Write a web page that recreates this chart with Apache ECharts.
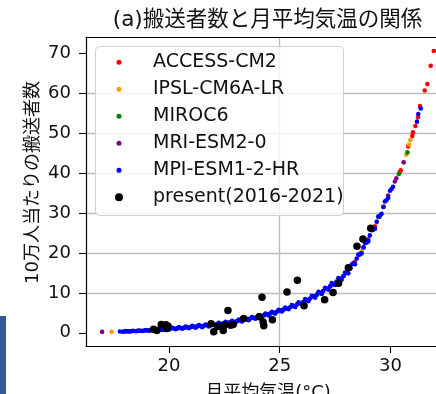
<!DOCTYPE html>
<html><head><meta charset="utf-8">
<script src="https://cdn.jsdelivr.net/npm/echarts@6/dist/echarts.min.js"></script>
<style>html,body{margin:0;padding:0;background:#fff}#c{width:436px;height:394px}</style>
</head><body><div id="c"></div>
<script>
const titleText = '(a)搬送者数と月平均気温の関係';
const xName = '月平均気温(°C)';
const yName = '10万人当たりの搬送者数';
const xTicks = [20, 25, 30];
const yTicks = [0, 10, 20, 30, 40, 50, 60, 70];
const modelNames = ['ACCESS-CM2', 'IPSL-CM6A-LR', 'MIROC6', 'MRI-ESM2-0', 'MPI-ESM1-2-HR'];
const presentName = 'present(2016-2021)';

const accessCM2 = [[18.2,0.38],[19.1,0.62],[20.4,1.15],[21.0,1.5],[21.8,1.9],[22.7,2.6],[23.5,3.4],[24.3,4.4],[25.1,5.7],[25.9,7.3],[26.6,9.2],[27.3,11.7],[27.9,14.3],[28.4,17.8],[28.8,21.4],[29.3,26.7],[29.7,31.6],[30.42,40.2],[30.47,40.7],[30.8,46.7],[30.99,49.3],[31.02,50.2],[31.13,51.8],[31.25,54.0],[31.34,56.8],[31.55,60.7],[31.67,62.3],[31.82,66.9],[31.96,70.6]];
const ipslCM6A = [[17.41,0.25],[18.6,0.48],[19.7,0.85],[20.9,1.4],[22.3,2.3],[23.6,3.5],[24.8,5.1],[25.8,7.1],[26.9,10.2],[27.8,13.8],[28.7,20.4],[29.4,27.9],[30.72,44.6],[30.84,47.1],[30.9,48.3]];
const miroc6 = [[18.0,0.35],[19.4,0.73],[20.7,1.3],[21.9,2.0],[23.1,2.95],[24.5,4.7],[25.6,6.7],[26.7,9.6],[27.6,12.6],[28.6,19.5],[29.5,29.0],[30.38,39.8],[30.77,45.2]];
const mriESM2 = [[16.98,0.25],[18.3,0.4],[19.8,0.9],[21.2,1.55],[22.5,2.4],[23.8,3.75],[25.2,5.9],[26.3,8.3],[27.4,12.1],[28.2,16.1],[29.0,23.4],[29.9,34.4],[30.2,37.9],[30.27,38.7],[30.6,42.7]];
const mpiESM1 = [[17.78,0.32],[17.9,0.28],[17.97,0.35],[18.05,0.42],[18.12,0.37],[18.2,0.33],[18.27,0.4],[18.35,0.49],[18.42,0.44],[18.5,0.39],[18.57,0.48],[18.65,0.58],[18.72,0.52],[18.8,0.45],[18.87,0.56],[18.95,0.68],[19.02,0.6],[19.1,0.52],[19.17,0.65],[19.25,0.8],[19.32,0.71],[19.4,0.6],[19.47,0.76],[19.55,0.95],[19.62,0.82],[19.7,0.7],[19.77,0.89],[19.85,1.1],[19.92,0.96],[20.0,0.82],[20.07,1.03],[20.15,1.28],[20.22,1.09],[20.3,0.92],[20.37,1.15],[20.45,1.42],[20.52,1.21],[20.6,1.02],[20.67,1.28],[20.75,1.58],[20.82,1.36],[20.9,1.15],[20.97,1.43],[21.05,1.75],[21.12,1.51],[21.2,1.28],[21.27,1.6],[21.35,1.92],[21.42,1.68],[21.5,1.42],[21.57,1.77],[21.65,2.1],[21.72,1.86],[21.8,1.6],[21.87,1.96],[21.95,2.3],[22.02,2.07],[22.1,1.8],[22.17,2.17],[22.25,2.5],[22.32,2.28],[22.4,2.05],[22.47,2.4],[22.55,2.75],[22.62,2.52],[22.7,2.3],[22.77,2.64],[22.85,3.0],[22.92,2.78],[23.0,2.55],[23.07,2.92],[23.15,3.3],[23.22,3.07],[23.3,2.85],[23.37,3.23],[23.45,3.62],[23.52,3.4],[23.6,3.18],[23.67,3.58],[23.75,3.98],[23.82,3.76],[23.9,3.55],[23.97,3.96],[24.05,4.4],[24.12,4.16],[24.2,3.95],[24.27,4.36],[24.35,4.8],[24.42,4.58],[24.5,4.35],[24.57,4.8],[24.65,5.25],[24.72,5.04],[24.8,4.82],[24.87,5.28],[24.95,5.75],[25.02,5.54],[25.1,5.35],[25.17,5.82],[25.25,6.3],[25.32,6.11],[25.4,5.9],[25.47,6.41],[25.55,6.95],[25.62,6.73],[25.7,6.5],[25.77,7.07],[25.85,7.65],[25.92,7.42],[26.0,7.2],[26.07,7.8],[26.15,8.45],[26.22,8.2],[26.3,7.95],[26.37,8.61],[26.45,9.3],[26.52,9.05],[26.6,8.8],[26.67,9.52],[26.75,10.25],[26.82,10.0],[26.9,9.75],[26.97,10.51],[27.05,11.3],[27.12,11.06],[27.2,10.8],[27.27,11.63],[27.35,12.45],[27.42,12.22],[27.5,12.0],[27.57,12.85],[27.65,13.7],[27.72,13.52],[27.8,13.3],[27.87,14.2],[27.95,15.1],[28.02,15.0],[28.1,14.9],[28.18,16.2],[28.25,17.1],[28.33,17.5],[28.4,17.2],[28.48,18.6],[28.55,19.6],[28.62,19.8],[28.7,19.9],[28.78,21.4],[28.85,22.5],[28.92,22.6],[29.0,22.9],[29.07,24.4],[29.15,25.7],[29.22,25.8],[29.3,26.1],[29.38,27.8],[29.45,29.1],[29.52,29.3],[29.6,29.8],[29.68,31.5],[29.75,32.9],[29.82,33.2],[29.9,33.8],[29.98,35.6],[30.05,36.0],[30.12,36.6],[31.2,52.9],[31.26,54.8],[31.37,56.2]];
const present = [[19.3,0.9],[19.45,0.6],[19.65,2.1],[19.85,2.0],[19.9,1.1],[19.95,1.7],[21.9,2.3],[22.02,0.3],[22.2,1.6],[22.45,0.6],[22.5,1.9],[22.66,5.6],[22.78,1.9],[22.9,2.1],[23.37,3.6],[24.08,4.0],[24.2,8.9],[24.25,2.7],[24.28,1.8],[24.67,3.3],[25.33,10.2],[25.8,13.2],[26.1,6.8],[27.03,8.3],[27.41,10.1],[27.66,12.4],[28.1,16.3],[28.49,21.7],[28.76,23.5],[29.11,26.2]];

const modelData = [accessCM2, ipslCM6A, miroc6, mriESM2, mpiESM1];
const modelColors = ['#ff0000', '#ff9a00', '#008000', '#800080', '#0000ff'];

const FONT = '"DejaVu Sans", "Noto Sans CJK JP", sans-serif';
const TXT = '#111';
const XMIN = 16.25, XMAX = 32.06, YMIN = -3.3, YMAX = 74.1;

const chart = echarts.init(document.getElementById('c'), null, {renderer: 'canvas'});
const series = modelNames.map((n, i) => ({
  name: n, type: 'scatter', data: modelData[i], symbolSize: 4.6,
  itemStyle: {color: modelColors[i], opacity: 1}, emphasis: {disabled: true}, animation: false
}));
series.push({name: presentName, type: 'scatter', data: present, symbolSize: 7.5,
  itemStyle: {color: '#000', opacity: 1}, emphasis: {disabled: true}, animation: false});

const axisLineStyle = {show: true, onZero: false, lineStyle: {color: '#000', width: 1.2}};
chart.setOption({
  animation: false,
  backgroundColor: '#fff',
  textStyle: {fontFamily: FONT},
  grid: {left: 86, top: 37, right: 0, bottom: 48, show: false},
  xAxis: [{
    type: 'value', min: XMIN, max: XMAX, splitNumber: 3,
    axisLine: axisLineStyle,
    axisTick: {show: true, length: 7, lineStyle: {color: '#000', width: 1.1}, customValues: xTicks},
    axisLabel: {customValues: xTicks, fontSize: 18, color: TXT, margin: 11, fontFamily: FONT},
    splitLine: {show: true, showMinLine: false, showMaxLine: false, lineStyle: {color: '#bdbdbd', width: 1.3}}
  }, {
    type: 'value', position: 'top', min: XMIN, max: XMAX, splitNumber: 3,
    axisLine: axisLineStyle, axisTick: {show: false}, axisLabel: {show: false}, splitLine: {show: false}
  }],
  yAxis: {
    type: 'value', min: YMIN, max: YMAX, splitNumber: 8,
    axisLine: axisLineStyle,
    axisTick: {show: true, length: 7, lineStyle: {color: '#000', width: 1.1}, customValues: yTicks},
    axisLabel: {customValues: yTicks, fontSize: 18, color: TXT, margin: 15, fontFamily: FONT},
    splitLine: {show: true, showMinLine: false, showMaxLine: false, lineStyle: {color: '#bdbdbd', width: 1.3}}
  },
  legend: [{
    data: modelNames, orient: 'vertical', left: 116.5, top: 52.2, padding: 0,
    itemWidth: 5, itemHeight: 5, itemGap: 7, icon: 'circle', selectedMode: false, z: 20,
    textStyle: {fontSize: 19, lineHeight: 20, color: TXT, fontFamily: FONT, padding: [0, 0, 0, 26.5]}
  }, {
    data: [presentName], orient: 'vertical', left: 115, top: 187.2, padding: 0,
    itemWidth: 8, itemHeight: 8, itemGap: 7, icon: 'circle', selectedMode: false, z: 20,
    textStyle: {fontSize: 19, lineHeight: 20, color: TXT, fontFamily: FONT, padding: [0, 0, 0, 25]}
  }],
  graphic: [
    {type: 'rect', z: 15, silent: true, shape: {x: 95.5, y: 46.5, width: 248, height: 169, r: 4},
     style: {fill: 'rgba(255,255,255,0.8)', stroke: '#d0d0d0', lineWidth: 1}},
    {type: 'text', z: 20, silent: true, x: 267.5, y: 20,
     style: {text: titleText, fill: TXT, font: '21.5px ' + FONT, textAlign: 'center', textVerticalAlign: 'middle'}},
    {type: 'text', z: 20, silent: true, x: 33, y: 182.5, rotation: Math.PI / 2,
     style: {text: yName, fill: TXT, font: '18px ' + FONT, textAlign: 'center', textVerticalAlign: 'middle'}},
    {type: 'text', z: 20, silent: true, x: 268, y: 393,
     style: {text: xName, fill: TXT, font: '18px ' + FONT, textAlign: 'center', textVerticalAlign: 'middle'}},
    {type: 'rect', z: 20, silent: true, shape: {x: 0, y: 316, width: 6, height: 78}, style: {fill: '#34599a'}}
  ],
  series: series
});
</script></body></html>
